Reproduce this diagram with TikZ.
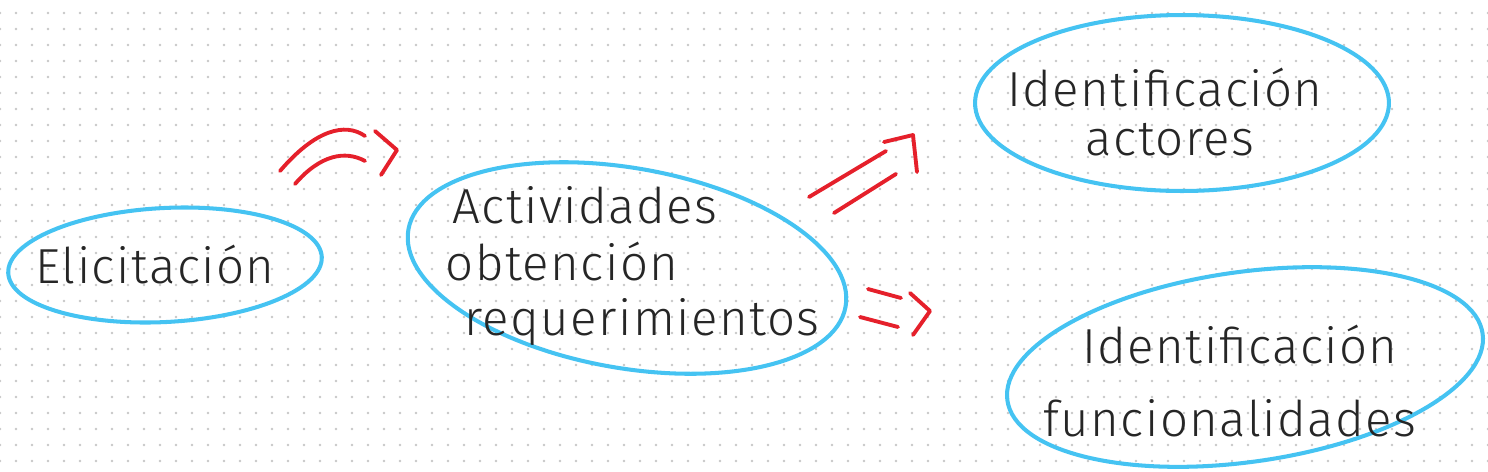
\documentclass[tikz,border=0pt]{standalone}
\usepackage{fontspec}
\setmainfont{Fira Sans}[UprightFont={* Light}, LetterSpace=3]
\usetikzlibrary{shapes.geometric}

\definecolor{blobblue}{HTML}{45C3F2}
\definecolor{inkred}{HTML}{E5202B}

\begin{document}
\begin{tikzpicture}[
    x=0.02cm, y=-0.02cm,
    blob/.style={ellipse, draw=blobblue, line width=2.3pt, inner sep=0pt},
    redline/.style={draw=inkred, line width=2.2pt, line cap=round, line join=round},
    txt/.style={inner sep=0pt, font=\fontsize{28}{30}\selectfont, text=black!85}
]
\useasboundingbox (0,0) rectangle (1488,471);

% dotted paper
\foreach \i in {0,16,...,1488}
    \foreach \j in {13,29,...,471}
        \fill[black!22] (\i,\j) circle (1.3);

% bubbles
\node [blob, minimum width=6.28cm, minimum height=2.28cm, rotate=3] (elic) at (165,265) {};
\node [blob, minimum width=8.88cm, minimum height=4.0cm, rotate=-10] (activ) at (627,268) {};
\node [blob, minimum width=8.28cm, minimum height=3.52cm] (actor) at (1182,103) {};
\node [blob, minimum width=9.6cm, minimum height=3.8cm, rotate=8] (funcs) at (1245,367) {};

\node [txt] (elictxt) at (155,265) {Elicitación};
\node [txt] (activ1) at (585,205) {Actividades};
\node [txt] (activ2) at (562,262) {obtención};
\node [txt] (activ3) at (642,322) {requerimientos};
\node [txt] (actor1) at (1165,88) {Identificación};
\node [txt] (actor2) at (1170,140) {actores};
\node [txt] (funcs1) at (1240,345) {Identificación};
\node [txt] (funcs2) at (1230,418) {funcionalidades};

% arrow ends
\coordinate (a1u) at (280,171);
\coordinate (a1v) at (365,136);
\coordinate (a1l) at (295,184);
\coordinate (a1m) at (365,161);
\coordinate (a2u) at (809,197);
\coordinate (a2v) at (886,151);
\coordinate (a2l) at (834,213);
\coordinate (a2m) at (896,174);
\coordinate (a3u) at (868,289);
\coordinate (a3v) at (901,298);
\coordinate (a3l) at (860,317);
\coordinate (a3m) at (898,327);

\draw [redline] (a1u) .. controls (315,130) and (345,122) .. (a1v);
\draw [redline] (a1l) .. controls (320,155) and (345,150) .. (a1m);
\draw [redline] (375,131) -- (397,150) -- (381,175);

\draw [redline] (a2u) -- (a2v);
\draw [redline] (a2l) -- (a2m);
\draw [redline] (884,142) -- (913,135) -- (917,172);

\draw [redline] (a3u) -- (a3v);
\draw [redline] (a3l) -- (a3m);
\draw [redline] (910,293) -- (930,311) -- (913,335);
\end{tikzpicture}
\end{document}
